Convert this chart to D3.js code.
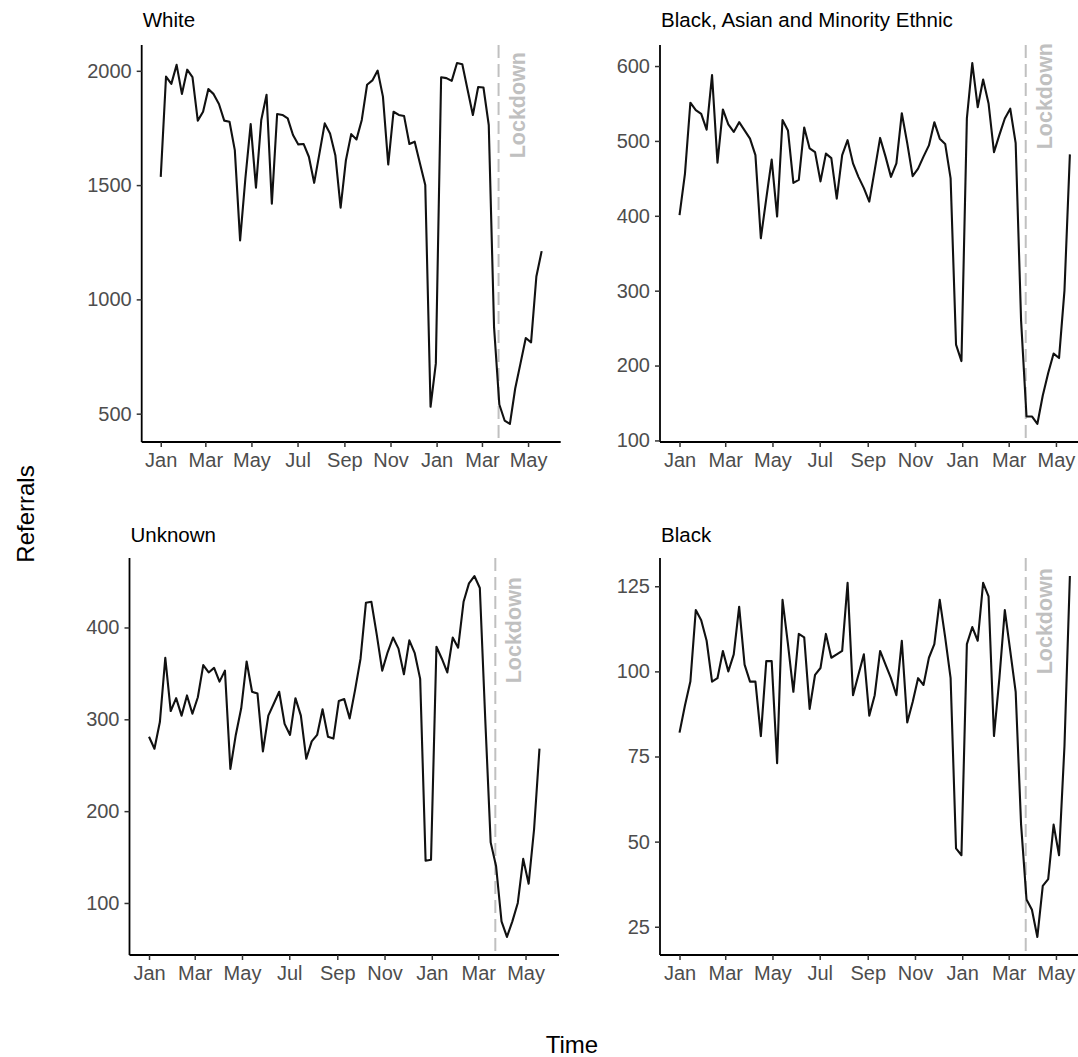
<!DOCTYPE html>
<html>
<head>
<meta charset="utf-8">
<script src="https://cdn.jsdelivr.net/npm/d3@7"></script>
<style>
  html, body { margin: 0; padding: 0; background: #fff; }
  svg { display: block; }
  text { font-family: "Liberation Sans", Arial, sans-serif; }
</style>
</head>
<body>
<svg id="chart" width="1078" height="1057"></svg>
<script>
// ---------- DATA ----------
const startDate = "2019-01-01";     // first weekly observation
const lockdownDate = "2020-03-23";
const xTickLabels = ["Jan", "Mar", "May", "Jul", "Sep", "Nov", "Jan", "Mar", "May"];
const xTickDates = ["2019-01-01","2019-03-01","2019-05-01","2019-07-01","2019-09-01","2019-11-01","2020-01-01","2020-03-01","2020-05-01"];

const panelTitles = ["White", "Black, Asian and Minority Ethnic", "Unknown", "Black"];

const white = [1536,1975,1943,2026,1899,2005,1972,1782,1821,1920,1898,1855,1782,1777,1653,1258,1530,1767,1489,1785,
  1895,1419,1811,1807,1792,1719,1678,1680,1624,1510,1639,1770,1726,1631,1401,1609,1723,1700,1785,1939,
  1958,2001,1887,1590,1821,1807,1802,1680,1690,1594,1500,530,720,1972,1968,1956,2034,2029,1917,1807,
  1929,1927,1763,880,540,470,455,610,720,831,812,1100,1211];
const bame = [401,456,551,541,536,515,588,471,542,522,512,525,514,503,481,370,423,475,399,528,
  514,444,448,518,490,485,446,483,477,423,481,501,470,452,437,419,461,504,479,452,
  470,537,497,453,463,479,494,525,503,496,450,228,206,530,604,545,582,550,485,508,
  530,543,497,260,132,132,122,160,190,216,210,300,482];
const unknown = [281,268,297,367,309,323,304,326,306,324,359,351,356,341,353,246,283,312,363,330,
  328,265,304,317,330,295,283,323,304,257,276,283,311,281,279,320,322,301,332,366,
  427,428,392,353,373,389,377,349,386,372,344,146,147,379,366,351,389,378,428,448,
  456,443,300,166,140,80,63,80,100,148,121,180,268];
const black = [82,90,97,118,115,109,97,98,106,100,105,119,102,97,97,81,103,103,73,121,
  108,94,111,110,89,99,101,111,104,105,106,126,93,99,105,87,93,106,102,98,
  93,109,85,91,98,96,104,108,121,110,98,48,46,108,113,109,126,122,81,98,
  118,106,94,55,33,30,22,37,39,55,46,78,128];

const whiteTicks = [500, 1000, 1500, 2000];
const bameTicks = [100, 200, 300, 400, 500, 600];
const unknownTicks = [100, 200, 300, 400];
const blackTicks = [25, 50, 75, 100, 125];

// ---------- LAYOUT ----------
const parse = d3.utcParse("%Y-%m-%d");
const t0 = parse(startDate);
const weekDate = i => d3.utcDay.offset(t0, 7 * i);

const panels = [
  { title: panelTitles[0], values: white,   ticks: whiteTicks,   left: 141.7, right: 560.7,  top: 45,  bottom: 442, titleY: 27,  labelTop: 52 },
  { title: panelTitles[1], values: bame,    ticks: bameTicks,    left: 660,   right: 1089.4, top: 45,  bottom: 442, titleY: 27,  labelTop: 43 },
  { title: panelTitles[2], values: unknown, ticks: unknownTicks, left: 129.5, right: 559,    top: 558, bottom: 955, titleY: 542, labelTop: 577 },
  { title: panelTitles[3], values: black,   ticks: blackTicks,   left: 660,   right: 1089.4, top: 558, bottom: 955, titleY: 542, labelTop: 568 }
];

const svg = d3.select("#chart");
const tickColor = "#4d4d4d";
const lockColor = "#c0c0c0";

panels.forEach(p => {
  const data = p.values.map((v, i) => ({ date: weekDate(i), value: v }));
  const xExt = d3.extent(data, d => d.date);
  const span = xExt[1] - xExt[0];
  const x = d3.scaleUtc()
    .domain([new Date(+xExt[0] - 0.05 * span), new Date(+xExt[1] + 0.05 * span)])
    .range([p.left, p.right]);
  const yExt = d3.extent(data, d => d.value);
  const ySpan = yExt[1] - yExt[0];
  const y = d3.scaleLinear()
    .domain([yExt[0] - 0.05 * ySpan, yExt[1] + 0.05 * ySpan])
    .range([p.bottom, p.top]);

  const g = svg.append("g");

  // lockdown dashed line
  const lx = x(parse(lockdownDate));
  g.append("line")
    .attr("x1", lx).attr("x2", lx)
    .attr("y1", p.top).attr("y2", p.bottom)
    .attr("stroke", lockColor).attr("stroke-width", 2)
    .attr("stroke-dasharray", "13,6");
  g.append("text")
    .attr("transform", `translate(${lx + 26},${p.labelTop}) rotate(-90)`)
    .attr("text-anchor", "end")
    .attr("fill", lockColor)
    .attr("font-weight", "bold")
    .attr("font-size", 21.5)
    .text("Lockdown");

  // data line
  g.append("path")
    .datum(data)
    .attr("fill", "none")
    .attr("stroke", "#111")
    .attr("stroke-width", 2.1)
    .attr("stroke-linejoin", "round")
    .attr("d", d3.line().x(d => x(d.date)).y(d => y(d.value)));

  // x axis
  const xAxis = d3.axisBottom(x)
    .tickValues(xTickDates.map(parse))
    .tickFormat((d, i) => xTickLabels[i])
    .tickSize(5).tickPadding(6);
  const gx = g.append("g").attr("transform", `translate(0,${p.bottom})`).call(xAxis);
  gx.select(".domain").attr("d", `M${p.left},0H${p.right}`).attr("stroke", "#000").attr("stroke-width", 1.8);
  gx.selectAll(".tick line").attr("stroke", "#333").attr("stroke-width", 1.5);
  gx.selectAll(".tick text").attr("fill", tickColor).attr("font-size", 20)
    .attr("font-family", "'Liberation Sans', Arial, sans-serif");

  // y axis
  const yAxis = d3.axisLeft(y).tickValues(p.ticks).tickFormat(d3.format("d"))
    .tickSize(5).tickPadding(5);
  const gy = g.append("g").attr("transform", `translate(${p.left},0)`).call(yAxis);
  gy.select(".domain").attr("d", `M0,${p.top}V${p.bottom}`).attr("stroke", "#000").attr("stroke-width", 1.8);
  gy.selectAll(".tick line").attr("stroke", "#333").attr("stroke-width", 1.5);
  gy.selectAll(".tick text").attr("fill", tickColor).attr("font-size", 20)
    .attr("font-family", "'Liberation Sans', Arial, sans-serif");

  // title
  g.append("text")
    .attr("x", p.left + 1).attr("y", p.titleY)
    .attr("fill", "#000").attr("font-size", 20.5)
    .text(p.title);
});

// axis titles
svg.append("text")
  .attr("transform", "translate(34,514) rotate(-90)")
  .attr("text-anchor", "middle")
  .attr("font-size", 24).attr("fill", "#000")
  .text("Referrals");
svg.append("text")
  .attr("x", 572).attr("y", 1053)
  .attr("text-anchor", "middle")
  .attr("font-size", 24).attr("fill", "#000")
  .text("Time");
</script>
</body>
</html>
